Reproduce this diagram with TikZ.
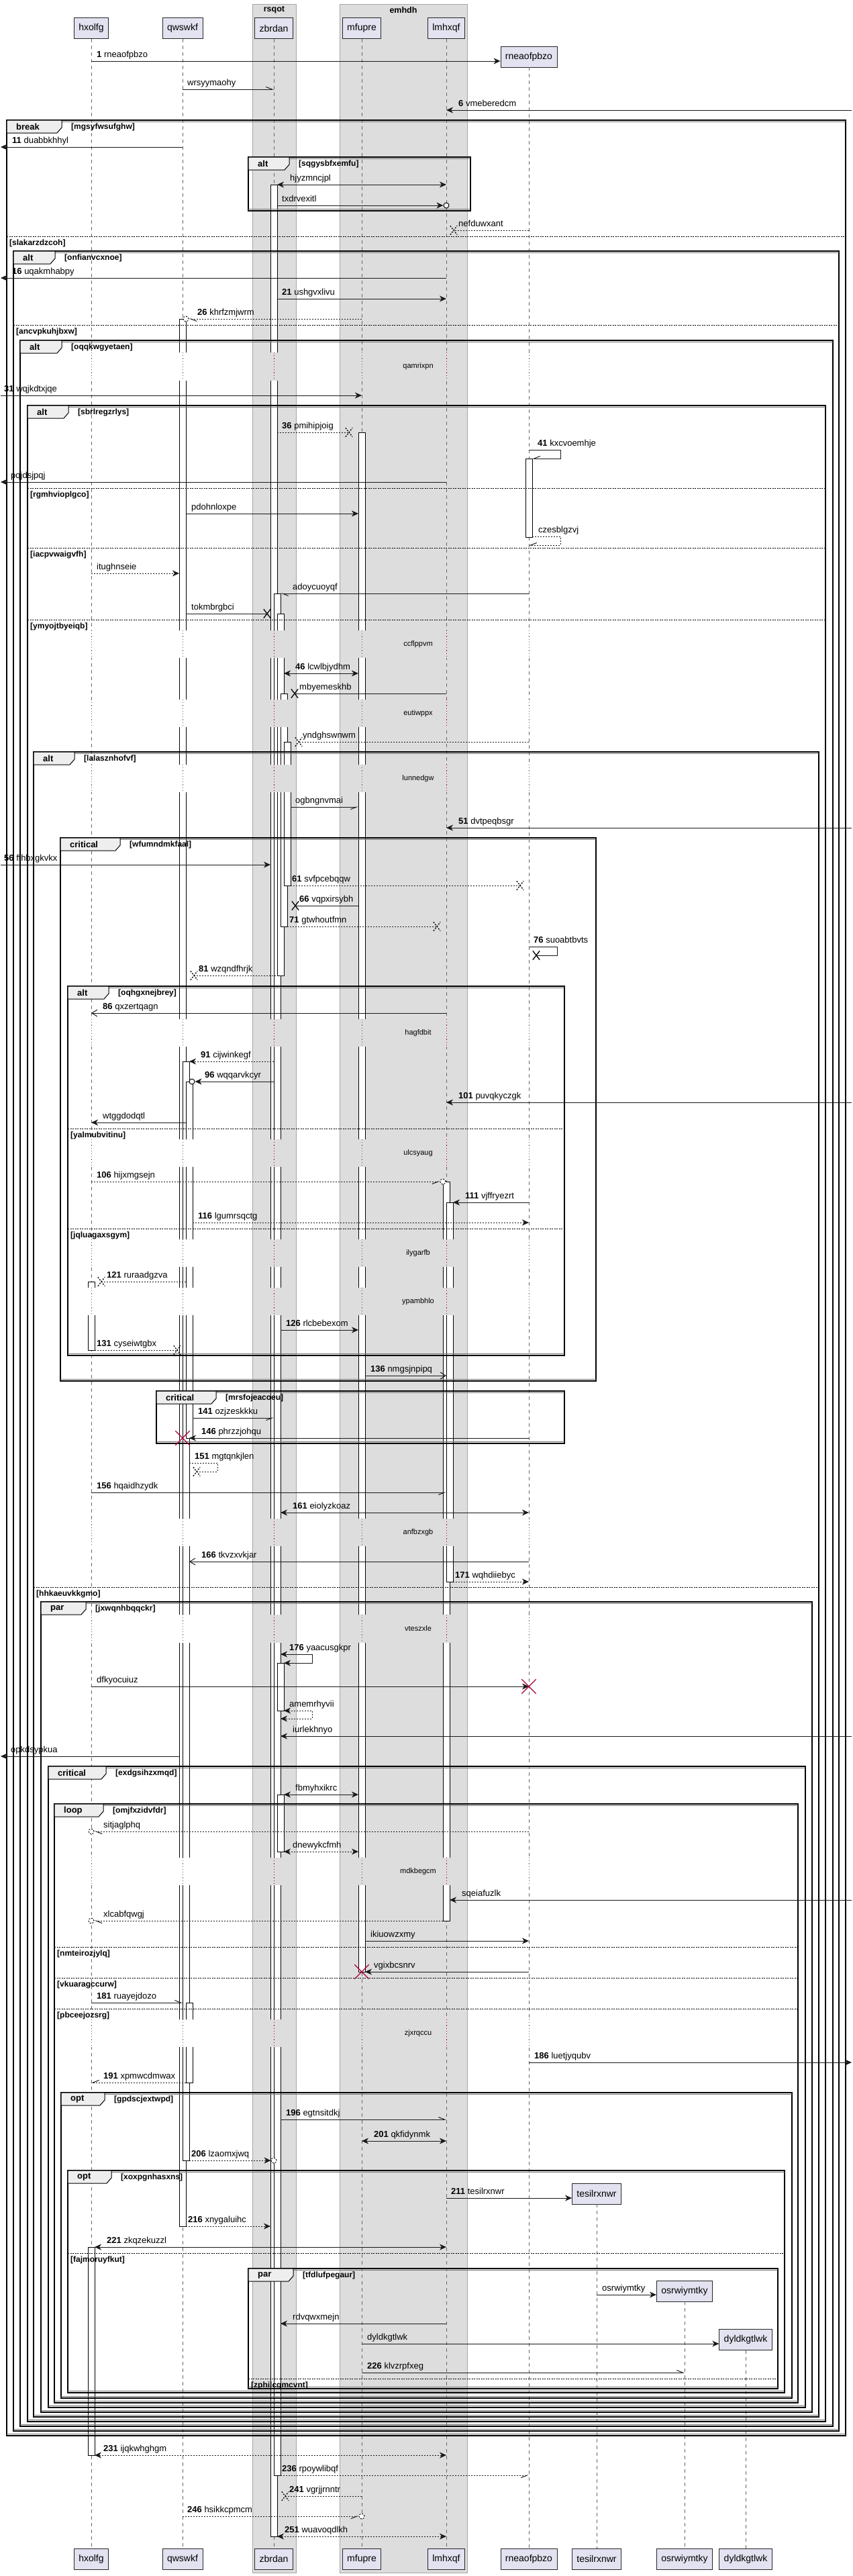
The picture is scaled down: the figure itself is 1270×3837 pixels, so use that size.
\documentclass[tikz,border=0pt]{standalone}
\usepackage{fontspec}
\setmainfont{Liberation Sans}
\usetikzlibrary{arrows.meta,shapes.misc}

\definecolor{partbg}{HTML}{E2E2F0}
\definecolor{grpbg}{HTML}{DDDDDD}
\definecolor{tabbg}{HTML}{EEEEEE}
\definecolor{crim}{HTML}{A80036}

\tikzset{
  part/.style={draw=black!85, fill=partbg, line width=0.8pt, minimum height=31pt,
    inner xsep=7pt, inner ysep=0pt, font=\fontsize{14}{16}\selectfont},
  band/.style={fill=grpbg, draw=black!35, line width=0.6pt},
  gtitle/.style={font=\bfseries\fontsize{12.5}{14}\selectfont, inner sep=0pt},
  life/.style={draw=black!60, line width=0.8pt, dash pattern=on 5pt off 5pt},
  act/.style={draw=black, fill=white, line width=0.8pt},
  dlygray/.style={draw=black!60, line width=0.8pt, dash pattern=on 1.2pt off 3pt},
  dlyred/.style={draw=crim, line width=0.8pt, dash pattern=on 1.2pt off 3pt},
  dtxt/.style={font=\fontsize{11}{13}\selectfont, inner sep=0pt},
  msg/.style={draw=black!90, line width=1pt},
  ret/.style={msg, dash pattern=on 2pt off 2pt},
  fil/.style={-{Stealth[length=10pt,width=9pt,inset=3pt]}},
  bfil/.style={{Stealth[length=10pt,width=9pt,inset=3pt]}-{Stealth[length=10pt,width=9pt,inset=3pt]}},
  opn/.style={-{Straight Barb[length=8pt,width=10pt]}},
  hl/.style={-{Straight Barb[harpoon,length=9pt,width=7pt]}},
  hr/.style={-{Straight Barb[harpoon,swap,length=9pt,width=7pt]}},
  lbl/.style={anchor=base west, inner sep=0pt, yshift=6pt, font=\fontsize{13}{15}\selectfont},
  xmk/.style={cross out, draw=black, line width=1.3pt, minimum width=9pt, minimum height=12pt, inner sep=0pt},
  bigx/.style={cross out, draw=crim, line width=1.3pt, minimum size=20pt, inner sep=0pt},
  ocirc/.style={circle, draw=black, fill=white, line width=1pt, minimum size=8pt, inner sep=0pt},
  frline/.style={draw=black, line width=1.2pt},
  frline2/.style={draw=black!55, line width=0.9pt},
  tab/.style={draw=black, fill=tabbg, line width=1pt},
  kw/.style={anchor=west, inner sep=0pt, font=\bfseries\fontsize{13}{15}\selectfont},
  grd/.style={anchor=west, inner sep=0pt, font=\bfseries\fontsize{12}{14}\selectfont},
  sepline/.style={draw=black, line width=0.9pt, dash pattern=on 2pt off 1.5pt}
}

% name, left, top, right, bottom, kind, guard, tab right
\newcommand\grpframe[8]{%
  \draw[frline] (#2,#3) rectangle (#4,#5);
  \draw[frline2] (#2,#3+2.2) -- (#4,#3+2.2);
  \draw[frline2] (#2,#5-2.2) -- (#4,#5-2.2);
  \draw[tab] (#2,#3) -- (#8,#3) -- (#8,#3+11) -- (#8-7,#3+19) -- (#2,#3+19) -- cycle;
  \node[kw] (#1) at (#2+14,#3+10) {#6};
  \node[grd] (#1-g) at (#8+14,#3+10) {[#7]};
}
% name, left, right, y, guard
\newcommand\grpsep[5]{%
  \draw[sepline] (#2,#4) -- (#3,#4);
  \node[grd] (#1) at (#2+4,#4+10) {[#5]};
}

\begin{document}
\begin{tikzpicture}[x=1pt,y=-1pt]
\useasboundingbox (0,0) rectangle (1270,3837);
\fill[white] (0,0) rectangle (1270,3837);

\draw[band] (376,6) rectangle (441,3832);
\draw[band] (506,6) rectangle (696,3832);
\node[gtitle] (rsqot) at (408.5,15) {rsqot};
\node[gtitle] (emhdh) at (601,15) {emhdh};

\node[part] (hxolfg) at (136,42) {hxolfg};
\node[part] (qwswkf) at (272,42) {qwswkf};
\node[part] (zbrdan) at (408,42) {zbrdan};
\node[part] (mfupre) at (539,42) {mfupre};
\node[part] (lmhxqf) at (665,42) {lmhxqf};
\node[part] (rneaofpbzo) at (788,84.5) {rneaofpbzo};
\node[part] (tesilrxnwr) at (889,3267.5) {tesilrxnwr};
\node[part] (osrwiymtky) at (1020,3412.5) {osrwiymtky};
\node[part] (dyldkgtlwk) at (1111,3485) {dyldkgtlwk};

\node[part] (hxolfg-b) at (136,3811.5) {hxolfg};
\node[part] (qwswkf-b) at (272,3811.5) {qwswkf};
\node[part] (zbrdan-b) at (408,3811.5) {zbrdan};
\node[part] (mfupre-b) at (539,3811.5) {mfupre};
\node[part] (lmhxqf-b) at (665,3811.5) {lmhxqf};
\node[part] (rneaofpbzo-b) at (788,3811.5) {rneaofpbzo};
\node[part] (tesilrxnwr-b) at (889,3811.5) {tesilrxnwr};
\node[part] (osrwiymtky-b) at (1020,3811.5) {osrwiymtky};
\node[part] (dyldkgtlwk-b) at (1111,3811.5) {dyldkgtlwk};

\coordinate (lft) at (1,0);
\coordinate (rgt) at (1269,0);

% lifelines and activations, broken by the delays
\begin{scope}
\clip (0,0) rectangle (1270,3837)
  (1270,525) rectangle (0,567) (1270,939) rectangle (0,980)
  (1270,1042) rectangle (0,1083) (1270,1139) rectangle (0,1180)
  (1270,1518) rectangle (0,1559) (1270,1697) rectangle (0,1738)
  (1270,1846) rectangle (0,1887) (1270,1918) rectangle (0,1959)
  (1270,2262) rectangle (0,2303) (1270,2405) rectangle (0,2447)
  (1270,2767) rectangle (0,2808) (1270,3008) rectangle (0,3049);
\foreach \p in {hxolfg,qwswkf,zbrdan,mfupre,lmhxqf,rneaofpbzo,tesilrxnwr,osrwiymtky,dyldkgtlwk}
  \draw[life] (\p.south) -- (\p-b.north);

\draw[act] (131,1909) rectangle (141,2011);
\draw[act] (131,3347) rectangle (141,3657);
\draw[act] (267,475) rectangle (277,3316);
\draw[act] (272,1581) rectangle (282,3218);
\draw[act] (277,1611) rectangle (287,2142);
\draw[act] (277,2983) rectangle (287,3102);
\draw[act] (403,275) rectangle (413,3778);
\draw[act] (408,884) rectangle (418,3687);
\draw[act] (413,914) rectangle (423,1453);
\draw[act] (418,1033) rectangle (428,1380);
\draw[act] (423,1105) rectangle (433,1319);
\draw[act] (413,2477) rectangle (423,2548);
\draw[act] (413,2673) rectangle (423,2758);
\draw[act] (534,644) rectangle (544,2937);
\draw[act] (660,1760) rectangle (670,2861);
\draw[act] (665,1791) rectangle (675,2356);
\draw[act] (783,683) rectangle (793,800);
\end{scope}

\foreach \ya/\yb/\dtext [count=\i] in {525/567/qamrixpn, 939/980/ccflppvm, 1042/1083/eutiwppx,
    1139/1180/lunnedgw, 1518/1559/hagfdbit, 1697/1738/ulcsyaug, 1846/1887/ilygarfb,
    1918/1959/ypambhlo, 2262/2303/anfbzxgb, 2405/2447/vteszxle, 2767/2808/mdkbegcm, 3008/3049/zjxrqccu}{
  \foreach \p in {hxolfg,qwswkf,mfupre,rneaofpbzo}
    \draw[dlygray] (\p |- 0,\ya) -- (\p |- 0,\yb);
  \foreach \p in {zbrdan,lmhxqf}
    \draw[dlyred] (\p |- 0,\ya) -- (\p |- 0,\yb);
  \node[dtxt] (dl\i) at (623,{(\ya+\yb)/2}) {\dtext};
}

\grpframe{f1}{10}{179}{1260}{3628}{break}{mgsyfwsufghw}{92}
\grpframe{f2}{370}{234}{701}{314}{alt}{sqgysbfxemfu}{431}
\grpsep{s1}{10}{1260}{352}{slakarzdzcoh}
\grpframe{f3}{20}{374}{1250}{3621}{alt}{onfianvcxnoe}{82}
\grpsep{s2}{20}{1250}{484}{ancvpkuhjbxw}
\grpframe{f4}{30}{507}{1241}{3614}{alt}{oqqkwgyetaen}{92}
\grpframe{f5}{41}{604}{1230}{3607}{alt}{sbrlregzrlys}{102}
\grpsep{s3}{41}{1230}{727}{rgmhvioplgco}
\grpsep{s4}{41}{1230}{816}{iacpvwaigvfh}
\grpsep{s5}{41}{1230}{923}{ymyojtbyeiqb}
\grpframe{f6}{50}{1120}{1220}{3600}{alt}{lalasznhofvf}{111}
\grpframe{f7}{90}{1248}{888}{2057}{critical}{wfumndmkfaal}{179}
\grpframe{f8}{101}{1469}{841}{2019}{alt}{oqhgxnejbrey}{162}
\grpsep{s6}{101}{841}{1681}{yalmubvitinu}
\grpsep{s7}{101}{841}{1830}{jqluagaxsgym}
\grpframe{f9}{233}{2072}{841}{2150}{critical}{mrsfojeacoeu}{322}
\grpsep{s8}{50}{1220}{2364}{hhkaeuvkkgmo}
\grpframe{f10}{61}{2386}{1210}{3593}{par}{jxwqnhbqqckr}{128}
\grpframe{f11}{72}{2631}{1200}{3586}{critical}{exdgsihzxmqd}{158}
\grpframe{f12}{81}{2687}{1189}{3579}{loop}{omjfxzidvfdr}{154}
\grpsep{s9}{81}{1189}{2900}{nmteirozjylq}
\grpsep{s10}{81}{1189}{2946}{vkuaragccurw}
\grpsep{s11}{81}{1189}{2992}{pbceejozsrg}
\grpframe{f13}{91}{3117}{1180}{3572}{opt}{gpdscjextwpd}{156}
\grpframe{f14}{101}{3233}{1169}{3564}{opt}{xoxpgnhasxns}{166}
\grpsep{s12}{101}{1169}{3356}{fajmoruyfkut}
\grpframe{f15}{370}{3379}{1159}{3558}{par}{tfdlufpegaur}{437}
\grpsep{s13}{370}{1159}{3543}{zphilcgmcvnt}

% messages
\draw[msg,fil] (hxolfg |- 0,91) -- (rneaofpbzo.west |- 0,91);
\node[lbl] (t1) at (144,91) {\textbf{1} rneaofpbzo};
\draw[msg,hl] (qwswkf |- 0,133) -- (zbrdan |- 0,133);
\node[lbl] (u1) at (279,133) {wrsyymaohy};
\draw[msg,fil] (rgt |- 0,164) -- (lmhxqf |- 0,164);
\node[lbl] (t6) at (683,164) {\textbf{6} vmeberedcm};
\draw[msg,fil] (qwswkf |- 0,219) -- (lft |- 0,219);
\node[lbl] (t11) at (18,219) {\textbf{11} duabbkhhyl};
\draw[msg,bfil] ([xshift=5pt]zbrdan |- 0,275) -- (lmhxqf |- 0,275);
\node[lbl] (u2) at (432,275) {hjyzmncjpl};
\draw[msg,fil,shorten >=4.5pt] ([xshift=5pt]zbrdan |- 0,306) -- (lmhxqf |- 0,306) node[ocirc] (c1) {};
\node[lbl] (u3) at (420,306) {txdrvexitl};
\draw[ret] (rneaofpbzo |- 0,343) -- ([xshift=11pt]lmhxqf |- 0,343) node[xmk] (x1) {};
\node[lbl] (u4) at (683,343) {nefduwxant};
\draw[msg,fil] (lmhxqf |- 0,414) -- (lft |- 0,414);
\node[lbl] (t16) at (18,414) {\textbf{16} uqakmhabpy};
\draw[msg,fil] ([xshift=5pt]zbrdan |- 0,445) -- (lmhxqf |- 0,445);
\node[lbl] (t21) at (420,445) {\textbf{21} ushgvxlivu};
\draw[ret,hl,shorten >=4.5pt] (mfupre |- 0,475) -- ([xshift=5pt]qwswkf |- 0,475) node[ocirc] (c2) {};
\node[lbl] (t26) at (294,475) {\textbf{26} khrfzmjwrm};
\draw[msg,fil] (lft |- 0,589) -- (mfupre |- 0,589);
\node[lbl] (t31) at (6,589) {\textbf{31} wqjkdtxjqe};
\draw[ret] ([xshift=5pt]zbrdan |- 0,644) -- ([xshift=-19pt]mfupre |- 0,644) node[xmk] (x2) {};
\node[lbl] (t36) at (420,644) {\textbf{36} pmihipjoig};
\draw[msg,hr] (rneaofpbzo |- 0,670) -| ([xshift=47pt]rneaofpbzo |- 0,683) -- ([xshift=5pt]rneaofpbzo |- 0,683);
\node[lbl] (t41) at (801,670) {\textbf{41} kxcvoemhje};
\draw[msg,fil] (lmhxqf |- 0,718) -- (lft |- 0,718);
\node[lbl] (u5) at (16,718) {pqjdsjpqj};
\draw[msg,fil] ([xshift=5pt]qwswkf |- 0,765) -- ([xshift=-5pt]mfupre |- 0,765);
\node[lbl] (u6) at (285,765) {pdohnloxpe};
\draw[ret,hr] ([xshift=5pt]rneaofpbzo |- 0,799) -| ([xshift=47pt]rneaofpbzo |- 0,812) -- (rneaofpbzo |- 0,812);
\node[lbl] (u7) at (802,799) {czesblgzvj};
\draw[ret,fil] (hxolfg |- 0,854) -- ([xshift=-5pt]qwswkf |- 0,854);
\node[lbl] (u8) at (144,854) {itughnseie};
\draw[msg,hl] (rneaofpbzo |- 0,884) -- ([xshift=10pt]zbrdan |- 0,884);
\node[lbl] (u9) at (436,884) {adoycuoyqf};
\draw[msg] ([xshift=5pt]qwswkf |- 0,914) -- ([xshift=-10pt]zbrdan |- 0,914) node[xmk] (x3) {};
\node[lbl] (u10) at (285,914) {tokmbrgbci};
\draw[msg,bfil] ([xshift=15pt]zbrdan |- 0,1003) -- ([xshift=-5pt]mfupre |- 0,1003);
\node[lbl] (t46) at (440,1003) {\textbf{46} lcwlbjydhm};
\draw[msg] (lmhxqf |- 0,1033) -- ([xshift=31pt]zbrdan |- 0,1033) node[xmk] (x4) {};
\node[lbl] (u11) at (446,1033) {mbyemeskhb};
\draw[ret] (rneaofpbzo |- 0,1105) -- ([xshift=37pt]zbrdan |- 0,1105) node[xmk] (x5) {};
\node[lbl] (u12) at (451,1105) {yndghswnwm};
\draw[msg,hr] ([xshift=25pt]zbrdan |- 0,1202) -- ([xshift=-5pt]mfupre |- 0,1202);
\node[lbl] (u13) at (440,1202) {ogbngnvmai};
\draw[msg,fil] (rgt |- 0,1233) -- (lmhxqf |- 0,1233);
\node[lbl] (t51) at (683,1233) {\textbf{51} dvtpeqbsgr};
\draw[msg,fil] (lft |- 0,1288) -- ([xshift=-5pt]zbrdan |- 0,1288);
\node[lbl] (t56) at (6,1288) {\textbf{56} ffhbxgkvkx};
\draw[ret] ([xshift=25pt]zbrdan |- 0,1319) -- ([xshift=-13pt]rneaofpbzo |- 0,1319) node[xmk] (x6) {};
\node[lbl] (t61) at (435,1319) {\textbf{61} svfpcebqqw};
\draw[msg] ([xshift=-5pt]mfupre |- 0,1349) -- ([xshift=32pt]zbrdan |- 0,1349) node[xmk] (x7) {};
\node[lbl] (t66) at (446,1349) {\textbf{66} vqpxirsybh};
\draw[ret] ([xshift=20pt]zbrdan |- 0,1380) -- ([xshift=-14pt]lmhxqf |- 0,1380) node[xmk] (x8) {};
\node[lbl] (t71) at (431,1380) {\textbf{71} gtwhoutfmn};
\draw[msg] (rneaofpbzo |- 0,1410) -| ([xshift=42pt]rneaofpbzo |- 0,1423) -- ([xshift=11pt]rneaofpbzo |- 0,1423) node[xmk] (x9) {};
\node[lbl] (t76) at (795,1410) {\textbf{76} suoabtbvts};
\draw[ret] ([xshift=15pt]zbrdan |- 0,1453) -- ([xshift=17pt]qwswkf |- 0,1453) node[xmk] (x10) {};
\node[lbl] (t81) at (296,1453) {\textbf{81} wzqndfhrjk};
\draw[msg,opn] (lmhxqf |- 0,1509) -- (hxolfg |- 0,1509);
\node[lbl] (t86) at (153,1509) {\textbf{86} qxzertqagn};
\draw[ret,fil] (zbrdan |- 0,1581) -- ([xshift=10pt]qwswkf |- 0,1581);
\node[lbl] (t91) at (299,1581) {\textbf{91} cijwinkegf};
\draw[msg,fil,shorten >=4.5pt] (zbrdan |- 0,1611) -- ([xshift=14pt]qwswkf |- 0,1611) node[ocirc] (c3) {};
\node[lbl] (t96) at (305,1611) {\textbf{96} wqqarvkcyr};
\draw[msg,fil] (rgt |- 0,1642) -- (lmhxqf |- 0,1642);
\node[lbl] (t101) at (683,1642) {\textbf{101} puvqkyczgk};
\draw[msg,fil] ([xshift=5pt]qwswkf |- 0,1672) -- (hxolfg |- 0,1672);
\node[lbl] (u14) at (153,1672) {wtggdodqtl};
\draw[ret,hr,shorten >=4.5pt] (hxolfg |- 0,1760) -- ([xshift=-5pt]lmhxqf |- 0,1760) node[ocirc] (c4) {};
\node[lbl] (t106) at (144,1760) {\textbf{106} hijxmgsejn};
\draw[msg,fil] (rneaofpbzo |- 0,1791) -- ([xshift=10pt]lmhxqf |- 0,1791);
\node[lbl] (t111) at (693,1791) {\textbf{111} vjffryezrt};
\draw[ret,fil] ([xshift=15pt]qwswkf |- 0,1821) -- (rneaofpbzo |- 0,1821);
\node[lbl] (t116) at (295,1821) {\textbf{116} lgumrsqctg};
\draw[ret] ([xshift=5pt]qwswkf |- 0,1909) -- ([xshift=15pt]hxolfg |- 0,1909) node[xmk] (x11) {};
\node[lbl] (t121) at (159,1909) {\textbf{121} ruraadgzva};
\draw[msg,fil] ([xshift=10pt]zbrdan |- 0,1981) -- ([xshift=-5pt]mfupre |- 0,1981);
\node[lbl] (t126) at (426,1981) {\textbf{126} rlcbebexom};
\draw[ret] ([xshift=5pt]hxolfg |- 0,2011) -- ([xshift=-8pt]qwswkf |- 0,2011) node[xmk] (x12) {};
\node[lbl] (t131) at (144,2011) {\textbf{131} cyseiwtgbx};
\draw[msg,opn] ([xshift=5pt]mfupre |- 0,2049) -- (lmhxqf |- 0,2049);
\node[lbl] (t136) at (552,2049) {\textbf{136} nmgsjnpipq};
\draw[msg,hr] ([xshift=15pt]qwswkf |- 0,2112) -- (zbrdan |- 0,2112);
\node[lbl] (t141) at (295,2112) {\textbf{141} ozjzeskkku};
\draw[msg,fil] (rneaofpbzo |- 0,2142) -- ([xshift=10pt]qwswkf |- 0,2142);
\node[bigx] (k1) at (qwswkf |- 0,2142) {};
\node[lbl] (t146) at (300,2142) {\textbf{146} phrzzjohqu};
\draw[ret] ([xshift=10pt]qwswkf |- 0,2179) -| ([xshift=52pt]qwswkf |- 0,2192) -- ([xshift=21pt]qwswkf |- 0,2192) node[xmk] (x13) {};
\node[lbl] (t151) at (290,2179) {\textbf{151} mgtqnkjlen};
\draw[msg,hr] (hxolfg |- 0,2223) -- (lmhxqf |- 0,2223);
\node[lbl] (t156) at (144,2223) {\textbf{156} hqaidhzydk};
\draw[msg,bfil] ([xshift=10pt]zbrdan |- 0,2253) -- (rneaofpbzo |- 0,2253);
\node[lbl] (t161) at (436,2253) {\textbf{161} eiolyzkoaz};
\draw[msg,opn] (rneaofpbzo |- 0,2326) -- ([xshift=10pt]qwswkf |- 0,2326);
\node[lbl] (t166) at (300,2326) {\textbf{166} tkvzxvkjar};
\draw[ret,fil] ([xshift=10pt]lmhxqf |- 0,2356) -- (rneaofpbzo |- 0,2356);
\node[lbl] (t171) at (678,2356) {\textbf{171} wqhdiiebyc};
\draw[msg,bfil] ([xshift=10pt]zbrdan |- 0,2464) -| ([xshift=57pt]zbrdan |- 0,2477) -- ([xshift=15pt]zbrdan |- 0,2477);
\node[lbl] (t176) at (431,2464) {\textbf{176} yaacusgkpr};
\draw[msg,fil] (hxolfg |- 0,2512) -- (rneaofpbzo |- 0,2512);
\node[bigx] (k2) at (rneaofpbzo |- 0,2512) {};
\node[lbl] (u15) at (144,2512) {dfkyocuiuz};
\draw[ret,bfil] ([xshift=15pt]zbrdan |- 0,2548) -| ([xshift=57pt]zbrdan |- 0,2560) -- ([xshift=10pt]zbrdan |- 0,2560);
\node[lbl] (u16) at (431,2548) {amemrhyvii};
\draw[msg,fil] (rgt |- 0,2586) -- ([xshift=10pt]zbrdan |- 0,2586);
\node[lbl] (u17) at (436,2586) {iurlekhnyo};
\draw[msg,fil] ([xshift=-5pt]qwswkf |- 0,2616) -- (lft |- 0,2616);
\node[lbl] (u18) at (16,2616) {opkdsypkua};
\draw[msg,bfil] ([xshift=15pt]zbrdan |- 0,2673) -- ([xshift=-5pt]mfupre |- 0,2673);
\node[lbl] (u19) at (440,2673) {fbmyhxikrc};
\draw[ret,hl,shorten >=4.5pt] (rneaofpbzo |- 0,2728) -- (hxolfg |- 0,2728) node[ocirc] (c5) {};
\node[lbl] (u20) at (154,2728) {sitjaglphq};
\draw[ret,bfil] ([xshift=15pt]zbrdan |- 0,2758) -- ([xshift=-5pt]mfupre |- 0,2758);
\node[lbl] (u21) at (436,2758) {dnewykcfmh};
\draw[msg,fil] (rgt |- 0,2830) -- ([xshift=5pt]lmhxqf |- 0,2830);
\node[lbl] (u22) at (688,2830) {sqeiafuzlk};
\draw[ret,hl,shorten >=4.5pt] ([xshift=-5pt]lmhxqf |- 0,2861) -- (hxolfg |- 0,2861) node[ocirc] (c6) {};
\node[lbl] (u23) at (154,2861) {xlcabfqwgj};
\draw[msg,fil] ([xshift=5pt]mfupre |- 0,2891) -- (rneaofpbzo |- 0,2891);
\node[lbl] (u24) at (552,2891) {ikiuowzxmy};
\draw[msg,fil] (rneaofpbzo |- 0,2937) -- ([xshift=5pt]mfupre |- 0,2937);
\node[bigx] (k3) at (mfupre |- 0,2937) {};
\node[lbl] (u25) at (557,2937) {vgixbcsnrv};
\draw[msg,hl] (hxolfg |- 0,2983) -- (qwswkf |- 0,2983);
\node[lbl] (t181) at (144,2983) {\textbf{181} ruayejdozo};
\draw[msg,fil] (rneaofpbzo |- 0,3072) -- (rgt |- 0,3072);
\node[lbl] (t186) at (796,3072) {\textbf{186} luetjyqubv};
\draw[ret,hr] ([xshift=5pt]qwswkf |- 0,3102) -- (hxolfg |- 0,3102);
\node[lbl] (t191) at (154,3102) {\textbf{191} xpmwcdmwax};
\draw[msg,hl] ([xshift=10pt]zbrdan |- 0,3157) -- (lmhxqf |- 0,3157);
\node[lbl] (t196) at (426,3157) {\textbf{196} egtnsitdkj};
\draw[msg,bfil] (mfupre |- 0,3189) -- (lmhxqf |- 0,3189);
\node[lbl] (t201) at (557,3189) {\textbf{201} qkfidynmk};
\draw[ret,fil,shorten >=4.5pt] ([xshift=10pt]qwswkf |- 0,3218) -- (zbrdan |- 0,3218) node[ocirc] (c7) {};
\node[lbl] (t206) at (285,3218) {\textbf{206} lzaomxjwq};
\draw[msg,fil] (lmhxqf |- 0,3274) -- (tesilrxnwr.west |- 0,3274);
\node[lbl] (t211) at (672,3274) {\textbf{211} tesilrxnwr};
\draw[ret,fil] ([xshift=5pt]qwswkf |- 0,3316) -- ([xshift=-5pt]zbrdan |- 0,3316);
\node[lbl] (t216) at (280,3316) {\textbf{216} xnygaluihc};
\draw[msg,bfil] ([xshift=5pt]hxolfg |- 0,3347) -- (lmhxqf |- 0,3347);
\node[lbl] (t221) at (159,3347) {\textbf{221} zkqzekuzzl};
\draw[msg,fil] (tesilrxnwr |- 0,3418) -- (osrwiymtky.west |- 0,3418);
\node[lbl] (u26) at (897,3418) {osrwiymtky};
\draw[msg,fil] (lmhxqf |- 0,3461) -- ([xshift=10pt]zbrdan |- 0,3461);
\node[lbl] (u27) at (436,3461) {rdvqwxmejn};
\draw[msg,fil] (mfupre |- 0,3491) -- (dyldkgtlwk.west |- 0,3491);
\node[lbl] (u28) at (547,3491) {dyldkgtlwk};
\draw[msg,hl] (mfupre |- 0,3534) -- (osrwiymtky |- 0,3534);
\node[lbl] (t226) at (547,3534) {\textbf{226} klvzrpfxeg};
\draw[ret,bfil] ([xshift=5pt]hxolfg |- 0,3657) -- (lmhxqf |- 0,3657);
\node[lbl] (t231) at (154,3657) {\textbf{231} ijqkwhghgm};
\draw[ret,hr] ([xshift=10pt]zbrdan |- 0,3687) -- (rneaofpbzo |- 0,3687);
\node[lbl] (t236) at (420,3687) {\textbf{236} rpoywlibqf};
\draw[ret] (mfupre |- 0,3718) -- ([xshift=17pt]zbrdan |- 0,3718) node[xmk] (x14) {};
\node[lbl] (t241) at (431,3718) {\textbf{241} vgrjjrnntr};
\draw[ret,hr,shorten >=4.5pt] (qwswkf |- 0,3748) -- (mfupre |- 0,3748) node[ocirc] (c8) {};
\node[lbl] (t246) at (279,3748) {\textbf{246} hsikkcpmcm};
\draw[ret,bfil] ([xshift=5pt]zbrdan |- 0,3778) -- (lmhxqf |- 0,3778);
\node[lbl] (t251) at (424,3778) {\textbf{251} wuavoqdlkh};

\end{tikzpicture}
\end{document}
